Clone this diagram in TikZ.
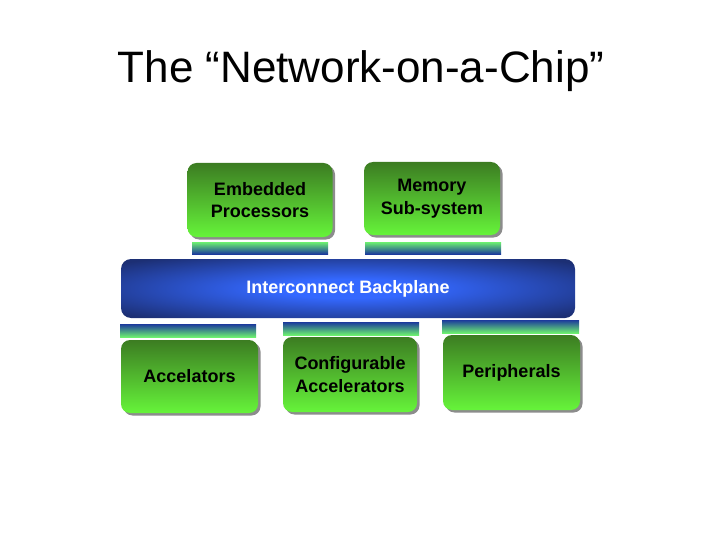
\documentclass[tikz,border=0pt]{standalone}
\usepackage{fontspec}
\setmainfont{Liberation Sans}
\usepackage{tikz}
\usetikzlibrary{shadows}

\begin{document}
\begin{tikzpicture}[x=1pt, y=-1pt]

% Colori
\definecolor{colGreenTop}{HTML}{3C7C22}
\definecolor{colGreenBot}{HTML}{66F43A}
\definecolor{colBlueIn}{HTML}{3468FF}
\definecolor{colBlueOut}{HTML}{1C2F74}
\definecolor{colBarGreen}{HTML}{6CF070}
\definecolor{colBarBlue}{HTML}{1C3A9C}
\definecolor{colShadow}{HTML}{8C8C8C}

% Sfumatura del backplane
\pgfdeclareradialshading{bpShade}{\pgfpoint{0bp}{0bp}}{%
  color(0bp)=(colBlueIn); color(8bp)=(colBlueIn); color(33bp)=(colBlueOut); color(50bp)=(colBlueOut)}

\tikzset{
  block/.style={rounded corners=9pt, top color=colGreenTop, bottom color=colGreenBot,
    general shadow={fill=colShadow, shadow xshift=2.5pt, shadow yshift=-2.5pt},
    font=\fontsize{18}{22.5}\selectfont\bfseries, align=center, inner sep=0pt},
  linkup/.style={top color=colBarGreen, bottom color=colBarBlue, inner sep=0pt, minimum height=12pt},
  linkdown/.style={top color=colBarBlue, bottom color=colBarGreen, inner sep=0pt, minimum height=13pt}
}

% Margini
\useasboundingbox (0,0) rectangle (720,540);

% Titolo
\node[font=\fontsize{44}{50}\selectfont] (title) at (361,71) {The “Network-on-a-Chip”};

% Blocchi superiori
\node[block, minimum width=145pt, minimum height=74pt] (emb) at (260,200) {Embedded\\Processors};
\node[block, minimum width=136pt, minimum height=73pt] (mem) at (432,198.5) {Memory\\Sub-system};

% Collegamenti superiori
\node[linkup, minimum width=136pt] (embLink) at (260,248) {};
\node[linkup, minimum width=136pt] (memLink) at (433,248) {};

% Backplane
\node[rounded corners=10pt, shading=bpShade,
  minimum width=454pt, minimum height=59pt, text=white,
  font=\fontsize{18}{22.5}\selectfont\bfseries] (bp) at (348,288.5) {Interconnect Backplane};

% Collegamenti inferiori
\node[linkdown, minimum width=136pt] (accLink) at (188,330.5) {};
\node[linkdown, minimum width=136pt] (cfgLink) at (351,328.5) {};
\node[linkdown, minimum width=137pt] (perLink) at (510.5,326.5) {};

% Blocchi inferiori
\node[block, minimum width=137pt, minimum height=73pt] (acc) at (189.5,376.5) {Accelators};
\node[block, minimum width=134pt, minimum height=75pt] (cfg) at (350,374.5) {Configurable\\Accelerators};
\node[block, minimum width=137pt, minimum height=75pt] (per) at (511.5,372.5) {Peripherals};

\end{tikzpicture}
\end{document}
